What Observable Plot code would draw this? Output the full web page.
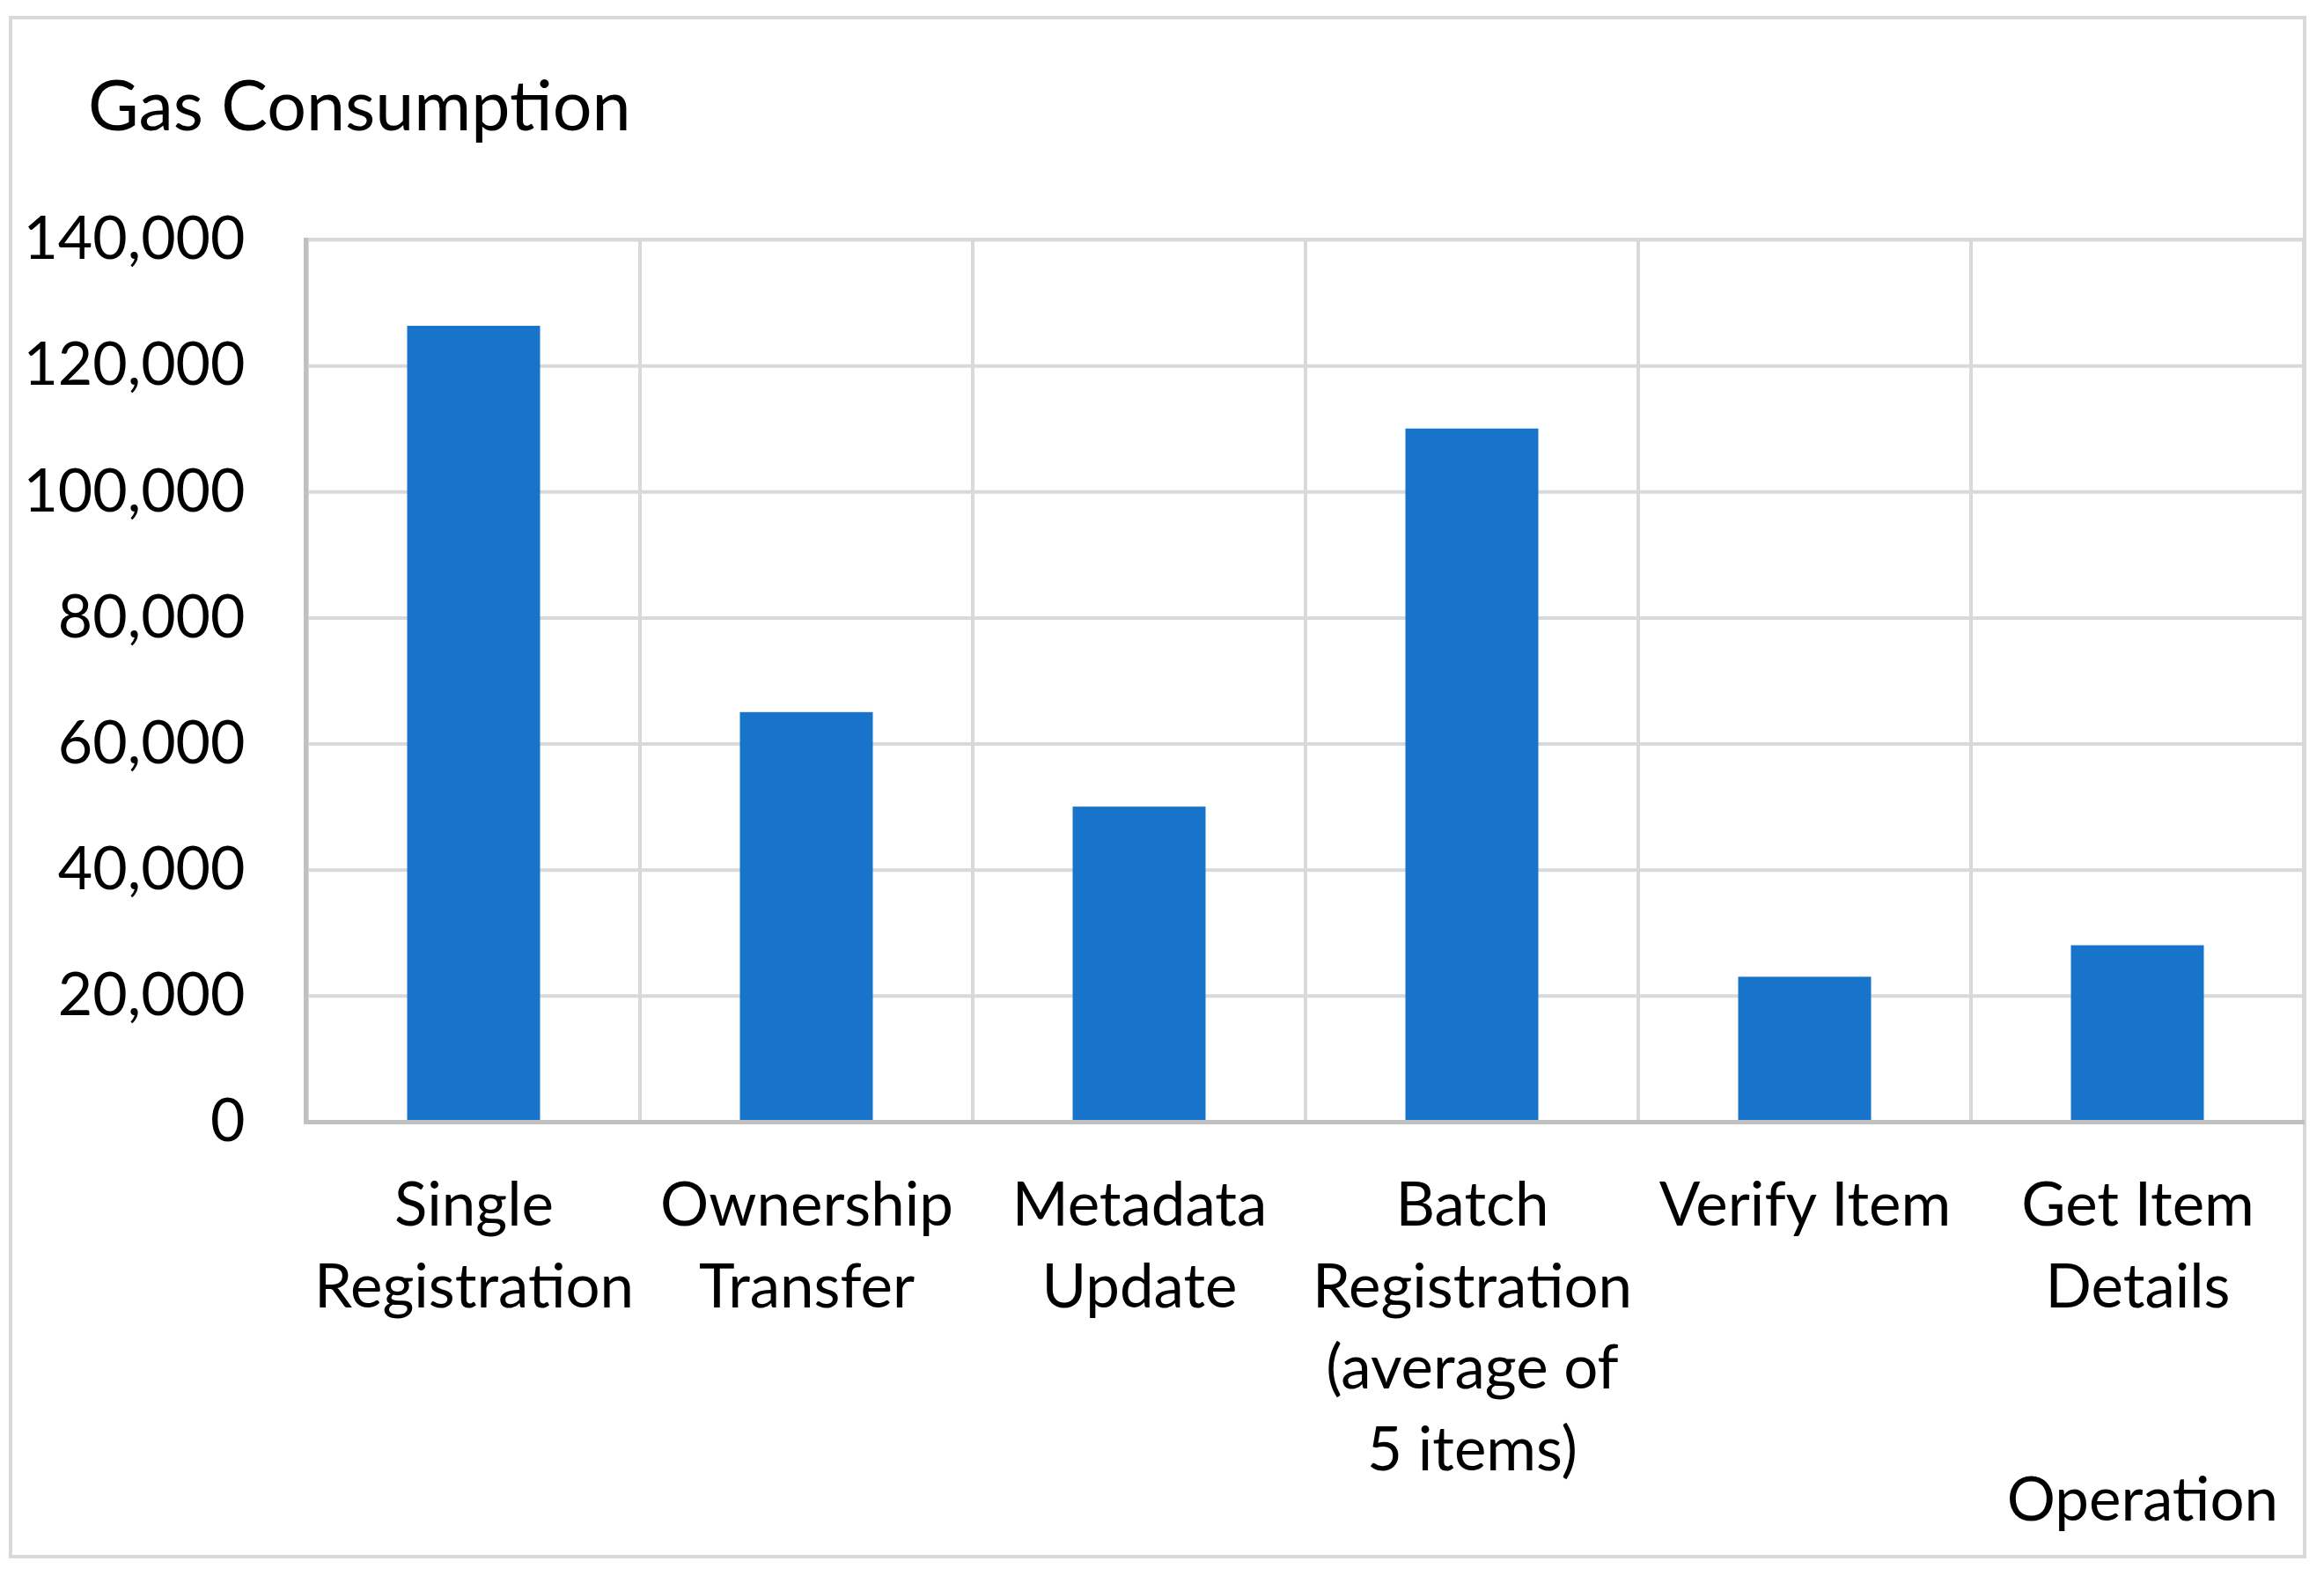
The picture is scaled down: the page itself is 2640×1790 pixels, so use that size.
<!DOCTYPE html>
<html>
<head>
<meta charset="utf-8">
<script src="https://cdn.jsdelivr.net/npm/d3@7"></script>
<script src="https://cdn.jsdelivr.net/npm/@observablehq/plot@0.6"></script>
<style>
  html, body { margin: 0; padding: 0; background: #fff; }
  body { width: 2640px; height: 1790px; position: relative; overflow: hidden; font-family: Lato, sans-serif; }
  #border { position: absolute; left: 10px; top: 18px; width: 2610px; height: 1752px; box-sizing: border-box; border: 4px solid #d9d9d9; }
  #chart { position: absolute; left: 0; top: 0; }
  #title { position: absolute; left: 100px; top: 78px; font-size: 79px; line-height: 1; color: #000; white-space: nowrap; }
  #xlabel { position: absolute; right: 52px; top: 1666px; font-size: 69px; line-height: 1; color: #000; white-space: nowrap; }
</style>
</head>
<body>
<div id="border"></div>
<div id="chart"></div>
<div id="title">Gas Consumption</div>
<div id="xlabel">Operation</div>
<script>
const categories = ["Single Registration", "Ownership Transfer", "Metadata Update", "Batch Registration (average of 5 items)", "Verify Item", "Get Item Details"];
const tickLabels = ["Single\nRegistration", "Ownership\nTransfer", "Metadata\nUpdate", "Batch\nRegistration\n(average of\n5 items)", "Verify Item", "Get Item\nDetails"];
const gasValues = [126300, 65000, 50000, 110000, 23000, 28000];
const yTicks = [0, 20000, 40000, 60000, 80000, 100000, 120000, 140000];
const yMax = 140000;

const data = categories.map((c, i) => ({category: c, gas: gasValues[i]}));
const labelOf = new Map(categories.map((c, i) => [c, tickLabels[i]]));

const chart = Plot.plot({
  width: 2640,
  height: 1790,
  marginLeft: 347,
  marginRight: 22,
  marginTop: 272,
  marginBottom: 516,
  style: {fontFamily: "Lato, sans-serif", color: "#000", background: "transparent"},
  x: {type: "band", domain: categories, padding: 0},
  y: {domain: [0, yMax]},
  marks: [
    Plot.gridY(yTicks, {stroke: "#d9d9d9", strokeOpacity: 1, strokeWidth: 4}),
    Plot.barY(categories, {x: d => d, y1: 0, y2: yMax, fill: "none", stroke: "#d9d9d9", strokeWidth: 4}),
    Plot.barY(data, {x: "category", y: "gas", fill: "#1874cb", insetLeft: 113.5, insetRight: 113.5}),
    Plot.ruleY([0], {stroke: "#c0c0c0", strokeWidth: 5}),
    Plot.frame({anchor: "left", stroke: "#c0c0c0", strokeWidth: 5}),
    Plot.axisY(yTicks, {tickSize: 0, tickPadding: 69, fontSize: 68, tickFormat: d3.format(","), label: null}),
    Plot.axisX({tickSize: 0, tickPadding: 52, fontSize: 69, lineHeight: 1.34, tickFormat: d => labelOf.get(d), label: null})
  ]
});
document.getElementById("chart").appendChild(chart);
</script>
</body>
</html>
